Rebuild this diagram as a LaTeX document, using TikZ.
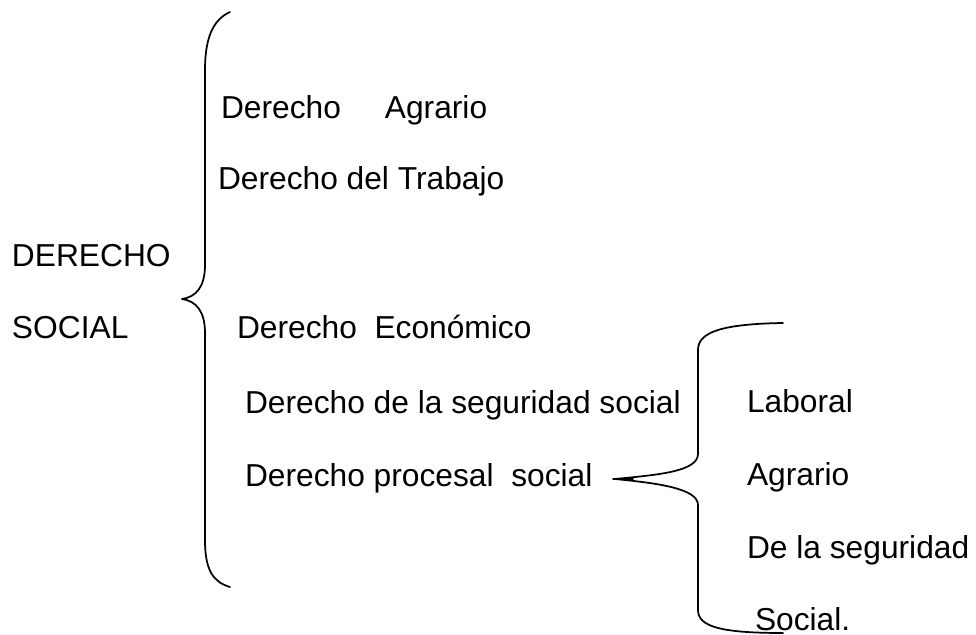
\documentclass[tikz,border=0pt]{standalone}
\usepackage{fontspec}
\setmainfont{Liberation Sans}
\begin{document}
\begin{tikzpicture}[x=0.75pt,y=-0.75pt,
  lbl/.style={anchor=base west,inner sep=0pt,outer sep=0pt,font=\fontsize{23.8pt}{28pt}\selectfont},
  brace/.style={draw=black,line width=1.3pt,line cap=round,line join=round}]
\useasboundingbox (0,0) rectangle (976,635);
% left labels
\node[lbl] (der) at (12,266) {DERECHO};
\node[lbl] (soc) at (12,338) {SOCIAL};
% branches
\node[lbl] (agr) at (221,118) {Derecho\hspace{33pt}Agrario};
\node[lbl] (tra) at (218,190) {Derecho del Trabajo};
\node[lbl] (eco) at (237,338) {Derecho\ \ Económico};
\node[lbl] (seg) at (245,413) {Derecho de la seguridad social};
\node[lbl] (pro) at (245,486) {Derecho procesal\ \ social};
% sub-branches
\node[lbl] (lab) at (747,412) {Laboral};
\node[lbl] (agr2) at (747,485) {Agrario};
\node[lbl] (dls) at (747,558) {De la seguridad};
\node[lbl] (sol) at (755,630) {Social.};
% big brace
\coordinate (tipA) at (182,299);
\draw[brace] (230,12) .. controls (212,20) and (205,40) .. (205,70)
  -- (205,265) .. controls (205,287) and (196,297) .. (tipA)
  .. controls (196,301) and (205,311) .. (205,333)
  -- (205,540) .. controls (205,570) and (213,582) .. (230,587);
% small brace
\coordinate (tipB) at (615,479);
\draw[brace] (783,323) .. controls (722,324) and (698,332) .. (698,350)
  -- (698,454) .. controls (698,472) and (655,475) .. (tipB)
  .. controls (655,483) and (698,488) .. (698,505)
  -- (698,610) .. controls (698,627) and (722,633) .. (783,633);
\draw[brace] (613,479) -- (633,479);
\end{tikzpicture}
\end{document}
